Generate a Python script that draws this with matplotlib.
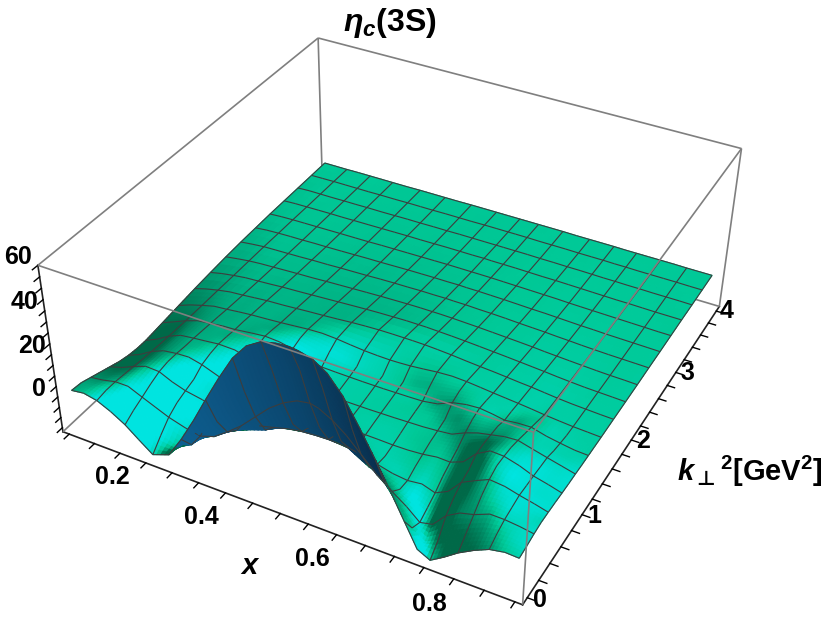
import numpy as np
import matplotlib
matplotlib.use("Agg")
import matplotlib.pyplot as plt
from mpl_toolkits.mplot3d.art3d import Poly3DCollection, Line3DCollection

plt.rcParams['font.family'] = ['Liberation Sans', 'DejaVu Sans']
plt.rcParams['font.weight'] = 'bold'
plt.rcParams['mathtext.fontset'] = 'custom'
plt.rcParams['mathtext.rm'] = 'Liberation Sans:bold'
plt.rcParams['mathtext.bf'] = 'Liberation Sans:bold'
plt.rcParams['mathtext.it'] = 'Liberation Sans:italic:bold'
plt.rcParams['mathtext.cal'] = 'DejaVu Sans:bold'

# ---- data ----
x_left = [.104, .128, .153, .178, .204, .228, .253, .285, .312, .339, .365, .392, .42, .446, .472, .497, .52]
x_right = [.535, .558, .582, .607, .634, .66, .685, .708, .73, .752, .775, .798, .824, .848, .873, .896]
k2_values = [0, .125, .25, .375, .5, .625, .75, .875, 1, 1.125, 1.25, 1.375, 1.5, 1.75, 2, 2.25, 2.5, 2.75, 3, 3.25, 3.5, 3.75, 4]
# each row from the low-x end to the centre; the inner right half repeats it in reverse
z_half = [
 [2, 2.8, 1.5, -1.5, -5.5, -10.5, -15.5, -12.5, -2.5, 9, 21, 33, 44.5, 52, 56, 57.5, 58],
 [1.5, 2, 2.2, .4, -2.8, -6.2, -10.5, -13, -9.5, -2.3, 6.6, 16, 25.5, 33, 39.5, 43, 44],
 [0, .8, 2.2, 2.2, -.7, -3.3, -6, -8.4, -9.7, -7.4, -2.7, 2.7, 9.6, 16, 20.8, 24, 25],
 [-1.5, -.3, 1.8, 3.2, 1.5, -1.2, -3.2, -5.8, -7.4, -8.2, -6.4, -3.5, -1, 2.7, 6.5, 8.7, 9.4],
 [-3, -1.3, 1.4, 3.6, 3.3, .5, -1.6, -3.1, -5, -6, -6.8, -6, -4.2, -2.4, -1.3, -.8, -.6],
 [-4.5, -2.3, .9, 3.3, 4.1, 2.9, -.2, -1.7, -2.8, -4.3, -4.8, -5.2, -4.8, -4.2, -3.4, -2.8, -2.6],
 [-5.5, -3, .6, 3.1, 4, 4.3, 2.8, -.2, -1.5, -2.3, -3.3, -3.8, -3.9, -3.7, -3.6, -3.4, -3.3],
 [-6, -3.4, .3, 2.9, 3.6, 4.3, 4.1, 2.7, -.4, -1.2, -1.8, -2.5, -2.8, -2.8, -2.7, -2.7, -2.6],
 [-6, -3.4, .2, 2.7, 3.5, 4.1, 4.8, 4.6, 2.6, -.2, -.9, -1.4, -1.6, -1.8, -1.9, -2, -2],
 [-5.5, -3, .1, 2.4, 3.2, 4, 4.5, 5.4, 4.7, 3.1, .2, -.5, -.8, -1.1, -1.2, -1.3, -1.3],
 [-5, -2.6, 0, 2.1, 2.9, 3.7, 4, 5, 5.7, 5.3, 4, 1, -.1, -.3, -.4, -.5, -.5],
 [-4.5, -2.2, 0, 1.8, 2.6, 3.3, 3.9, 4.5, 5.2, 5.9, 5.4, 4.5, 3.1, 1.5, .6, .3, .2],
 [-4, -1.8, 0, 1.6, 2.2, 2.9, 3.5, 4, 4.5, 5.1, 5.7, 6, 5.6, 4.9, 4.3, 4, 3.9],
 [-3, -1.3, .1, 1.2, 1.7, 2.3, 2.9, 3.3, 3.8, 4.3, 4.7, 5.2, 5.8, 6.2, 6.5, 6.6, 6.6],
 [-2.2, -.9, .1, .9, 1.3, 1.7, 2.2, 2.6, 3, 3.4, 3.8, 4.2, 4.6, 4.9, 5.1, 5.3, 5.3],
 [-1.5, -.6, .2, .7, 1, 1.3, 1.6, 1.9, 2.3, 2.6, 2.9, 3.2, 3.5, 3.7, 3.9, 4, 4],
 [-1, -.3, .3, .5, .7, .9, 1.2, 1.4, 1.7, 1.9, 2.1, 2.4, 2.6, 2.7, 2.9, 2.9, 3],
 [-.7, -.1, .2, .4, .5, .7, .8, 1, 1.2, 1.4, 1.5, 1.7, 1.9, 2, 2.1, 2.1, 2.2],
 [-.4, 0, .2, .3, .4, .5, .6, .7, .8, 1, 1.1, 1.2, 1.3, 1.4, 1.5, 1.5, 1.5],
 [-.3, 0, .1, .2, .3, .3, .4, .5, .6, .7, .8, .8, .9, 1, 1, 1, 1.1],
 [-.2, .1, .1, .1, .2, .2, .3, .3, .4, .5, .5, .6, .6, .7, .7, .7, .7],
 [-.1, 0, .1, .1, .1, .1, .2, .2, .3, .3, .3, .4, .4, .4, .5, .5, .5],
 [0, 0, 0, .1, .1, .1, .1, .1, .2, .2, .2, .2, .3, .3, .3, .3, .3],
]
# the high-x end of the surface, columns x = .685 ... .896, one row per k2 value
z_right_end = [
 [-2.5, -13.5, -16.5, -12.5, -8, -4, -1, .3, 0],
 [-10.5, -15, -12, -7.7, -3.8, -.6, 1.4, 1.6, .6],
 [-12.7, -11.4, -5, -1.3, .3, 3.2, 3.1, 2.4, 1.4],
 [-10.4, -8.8, -1.2, 1.8, 4.5, 5.2, 4, 2.5, 1.9],
 [-8, -5.1, 1.4, 4.5, 7.3, 6.6, 4.9, 3.4, 1.8],
 [-4.8, -2.7, 2.8, 7.9, 9.1, 7.3, 4.7, 3.2, 1.6],
 [-2.5, -.2, 5.8, 9.3, 9, 7.1, 4.6, 3, 1.3],
 [-.4, 2.7, 6.1, 8.3, 8.6, 6.9, 4.3, 2.8, 1.1],
 [2.6, 4.6, 5.8, 7.1, 7.5, 5.7, 4.1, 2.5, 1],
 [4.7, 5.4, 5.5, 6, 6.2, 4.4, 2.8, 1.7, .8],
 [5.7, 5, 4, 4.7, 4.9, 3.1, 2, 1, .7],
 [5.2, 4.5, 3.9, 3.3, 3.6, 2.3, 1.3, .9, .6],
 [4.5, 4, 3.5, 2.9, 2.2, 1.6, 1.1, .8, .5],
 [3.8, 3.3, 2.9, 2.3, 1.7, 1.2, .9, .6, .4],
 [3, 2.6, 2.2, 1.7, 1.3, .9, .7, .5, .3],
 [2.3, 1.9, 1.6, 1.3, 1, .7, .5, .4, .2],
 [1.7, 1.4, 1.2, .9, .7, .5, .4, .3, .2],
 [1.2, 1, .8, .7, .5, .4, .3, .2, .1],
 [.8, .7, .6, .5, .4, .3, .2, .1, .1],
 [.6, .5, .4, .3, .3, .2, .1, .1, .1],
 [.4, .3, .3, .2, .2, .1, .1, .1, 0],
 [.3, .2, .2, .1, .1, .1, .1, 0, 0],
 [.2, .1, .1, .1, .1, .1, 0, 0, 0],
]
x_ticks = [.1, .15, .2, .25, .3, .35, .4, .45, .5, .55, .6, .65, .7, .75, .8, .85, .9]
x_ticklabels = ['', '', '0.2', '', '', '', '0.4', '', '', '', '0.6', '', '', '', '0.8', '', '']
y_ticks = [0, .2, .4, .6, .8, 1, 1.2, 1.4, 1.6, 1.8, 2, 2.2, 2.4, 2.6, 2.8, 3, 3.2, 3.4, 3.6, 3.8, 4]
y_ticklabels = ['0', '', '', '', '', '1', '', '', '', '', '2', '', '', '', '', '3', '', '', '', '', '4']
z_ticks = [-15, -10, -5, 0, 5, 10, 15, 20, 25, 30, 35, 40, 45, 50, 55, 60]
z_ticklabels = ['', '', '', '0', '', '', '', '20', '', '', '', '40', '', '', '', '60']
x_limits = (.0875, .9125)
y_limits = (-.08, 4.08)
z_limits = (-17, 60)

# ---- camera, fitted to the corners of the drawn box ----
W_PX, H_PX = 830, 629
cube = np.array([[0,0,1],[1,0,1],[1,1,1],[0,1,1],[0,0,0],[1,0,0],[1,1,0]], float)
px = np.array([[38,265],[533,432],[742,149],[318,38],[63,432],[523,605],[719,306]], float)
uv = np.column_stack([px[:,0]/W_PX, (H_PX + (W_PX-H_PX)/2 - px[:,1])/W_PX])
A = []
for (X,Y,Z_), (u,v) in zip(cube, uv):
    A.append([X,Y,Z_,1,0,0,0,0,-u*X,-u*Y,-u*Z_,-u])
    A.append([0,0,0,0,X,Y,Z_,1,-v*X,-v*Y,-v*Z_,-v])
P = np.linalg.svd(np.array(A))[2][-1].reshape(3,4)
if P[2] @ np.array([.5,.5,.5,1]) < 0:
    P = -P
P = P/(P[2] @ np.array([.5,.5,.5,1]))
cam = np.linalg.svd(P)[2][-1]
cam = cam[:3]/cam[3]

lo = np.array([x_limits[0], y_limits[0], z_limits[0]])
hi = np.array([x_limits[1], y_limits[1], z_limits[1]])
to_unit = np.array([[1/(hi[0]-lo[0]),0,0,-lo[0]/(hi[0]-lo[0])],
                    [0,1/(hi[1]-lo[1]),0,-lo[1]/(hi[1]-lo[1])],
                    [0,0,1/(hi[2]-lo[2]),-lo[2]/(hi[2]-lo[2])],
                    [0,0,0,1]])

fig = plt.figure(figsize=(8.3, 6.29), dpi=100)
ax = fig.add_axes([0, (H_PX-W_PX)/2/H_PX, 1, W_PX/H_PX], projection='3d', computed_zorder=False)
ax.view_init(elev=35, azim=-60)
ax.set_xlim(*x_limits); ax.set_ylim(*y_limits); ax.set_zlim(*z_limits)
ax.patch.set_visible(False)

inv = ax.transLimits.inverted()
x0, y0 = inv.transform((0,0)); x1, y1 = inv.transform((1,1))
row_w = P[2] @ to_unit
row_u = P[0] @ to_unit
row_v = P[1] @ to_unit
M = np.vstack([x0*row_w + (x1-x0)*row_u,
               y0*row_w + (y1-y0)*row_v,
               row_w - .5*np.array([0,0,0,1.]),
               row_w])
ax.get_proj = lambda: M

# ---- surface ----
x = np.array(x_left + x_right)
k = np.array(k2_values)
zh = np.array(z_half)
Z = np.hstack([zh, zh[:, -2::-1]])
end = np.array(z_right_end)
Z[:, -end.shape[1]:] = end
XX, KK = np.meshgrid(x, k)
G = np.stack([XX, KK, Z], axis=-1)

def unit(a):
    return (a-lo)/(hi-lo)
def data(a):
    return lo + a*(hi-lo)

scale = np.array([1, .9, .42])
W = unit(G)*scale
di = np.gradient(W, axis=0)
dj = np.gradient(W, axis=1)
N = np.cross(dj, di)
N = N/np.linalg.norm(N, axis=-1, keepdims=True)

L = np.array([.7, -.3, .65]); L = L/np.linalg.norm(L)
base = np.array([0, 201, 151])/255
bright = np.array([0, 228, 224])/255
darkg = np.array([0, 105, 72])/255
under_l = np.array([14, 95, 145])/255
under_r = np.array([8, 42, 70])/255
cam_s = cam*scale

def shade(p, n):
    n = n/np.linalg.norm(n)
    c = unit(p)*scale
    if n @ (cam_s-c) < 0:
        t = (p[0]-.3)/.4
        return under_l + np.clip(t,0,1)*(under_r-under_l)
    s = n @ L - L[2]
    if s >= 0:
        return base + np.clip(s/.22,0,1)*(bright-base)
    return base + np.clip(-s/.35,0,1)*(darkg-base)

def bil(a,b,c,d,s,t):
    return (1-t)*((1-s)*a+s*b) + t*((1-s)*c+s*d)

polys, fcs, ecs = [], [], []
ni, nj = Z.shape
for i in range(ni-1):
    sub = 4 if i < 13 else 2
    ts = np.linspace(0, 1, sub+1)
    for j in range(nj-1):
        g00, g01, g10, g11 = G[i,j], G[i,j+1], G[i+1,j], G[i+1,j+1]
        n00, n01, n10, n11 = N[i,j], N[i,j+1], N[i+1,j], N[i+1,j+1]
        for a in range(sub):
            for b in range(sub):
                s0, s1 = ts[b], ts[b+1]
                t0, t1 = ts[a], ts[a+1]
                q = np.array([bil(g00,g01,g10,g11,s0,t0), bil(g00,g01,g10,g11,s1,t0),
                              bil(g00,g01,g10,g11,s1,t1), bil(g00,g01,g10,g11,s0,t1)])
                col = shade(q.mean(axis=0), bil(n00,n01,n10,n11,(s0+s1)/2,(t0+t1)/2))
                polys.append(q); fcs.append((*col,1)); ecs.append((*col,1))

def seg(a, b):
    ua = unit(a); ub = unit(b)
    ua = ua + .02*(cam-ua); ub = ub + .02*(cam-ub)
    da = data(ua); db = data(ub)
    polys.append(np.array([da, db, db, da])); fcs.append((0,0,0,0)); ecs.append((.24,.24,.24,1))

mesh_rows = [i for i,v in enumerate(k2_values) if abs(v*4-round(v*4)) < 1e-9]
mesh_cols = list(range(0, nj, 2))
for i in mesh_rows:
    for j in range(nj-1):
        seg(G[i,j], G[i,j+1])
for j in mesh_cols:
    for i in range(ni-1):
        seg(G[i,j], G[i+1,j])

surf = Poly3DCollection(polys, facecolors=fcs, edgecolors=ecs, linewidths=.8, zsort='average', zorder=2)
ax.add_collection3d(surf, autolim=False)

# ---- box ----
xa, xb = x_limits; ya, yb = y_limits; za, zb = z_limits
gray = '#7f7f7f'
hidden = [[(xa,yb,za),(xa,ya,za)], [(xa,yb,za),(xb,yb,za)], [(xa,yb,za),(xa,yb,zb)]]
shown = [[(xa,ya,zb),(xb,ya,zb)], [(xb,ya,zb),(xb,yb,zb)], [(xb,yb,zb),(xa,yb,zb)], [(xa,yb,zb),(xa,ya,zb)],
         [(xb,ya,za),(xb,ya,zb)], [(xb,yb,za),(xb,yb,zb)]]
ax.add_collection3d(Line3DCollection(hidden, colors=gray, linewidths=1.2, zorder=1), autolim=False)
ax.add_collection3d(Line3DCollection(shown, colors=gray, linewidths=1.2, zorder=3), autolim=False)

# ---- axes ----
ax.grid(False)
for axis in (ax.xaxis, ax.yaxis, ax.zaxis):
    axis.pane.set_visible(False)
    axis.line.set_color('#222222'); axis.line.set_linewidth(1.2)
    axis._axinfo['tick']['inward_factor'] = .2
    axis._axinfo['tick']['outward_factor'] = 0
    axis._axinfo['tick']['linewidth'] = {True: 1.0, False: .8}
    axis._axinfo['tick']['color'] = '#222222'
ax.zaxis.set_ticks_position('lower')
ax.set_xticks(x_ticks); ax.set_xticklabels(x_ticklabels)
ax.set_yticks(y_ticks); ax.set_yticklabels(y_ticklabels)
ax.set_zticks(z_ticks); ax.set_zticklabels(z_ticklabels)
ax.tick_params(axis='both', labelsize=18, pad=0)
ax.tick_params(axis='z', labelsize=18, pad=0)
ax.set_xlim(*x_limits); ax.set_ylim(*y_limits); ax.set_zlim(*z_limits)
for t, v in zip(ax.xaxis.get_major_ticks(), x_ticks):
    if abs(v-.2) > 1e-9:
        t.label1.set_ha('right')
for t in ax.yaxis.get_major_ticks():
    t.label1.set_va('baseline')
for t in ax.zaxis.get_major_ticks():
    t.label1.set_va('bottom')

ax.xaxis.set_rotate_label(False); ax.yaxis.set_rotate_label(False)
ax.yaxis._axinfo['label']['ha'] = 'left'
ax.set_xlabel(r'$\mathit{x}$', fontsize=21, labelpad=12)
ax.set_ylabel(r'$\mathit{k}_{\mathcal{\bot}}{}^{\mathrm{2}}\mathrm{[GeV^{2}]}$', fontsize=21, labelpad=10)
ax.set_title(r'$\mathit{\eta_c}$(3S)', fontsize=23, fontweight='bold', x=390/W_PX, pad=0,
             y=(H_PX + (W_PX-H_PX)/2 - 31)/W_PX/.92)

fig.savefig('out.png', dpi=100)
